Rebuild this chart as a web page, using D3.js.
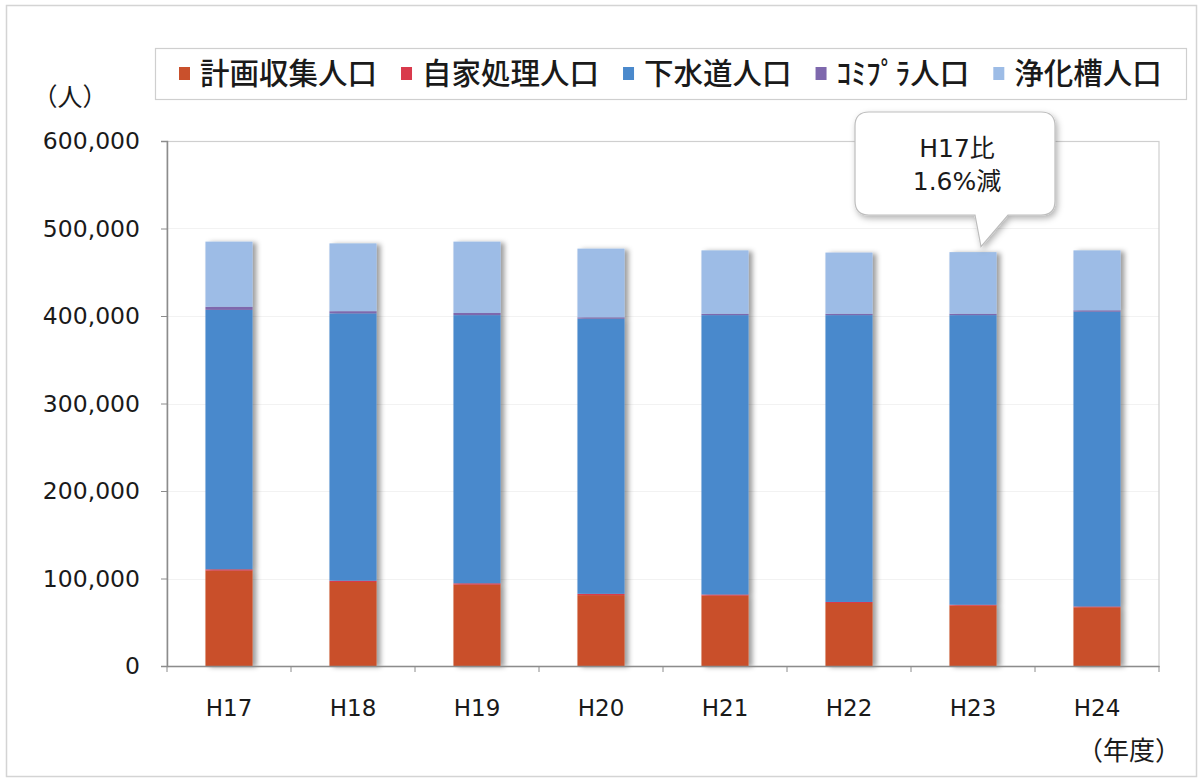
<!DOCTYPE html>
<html lang="ja">
<head>
<meta charset="utf-8">
<script src="https://cdn.jsdelivr.net/npm/d3@7"></script>
<style>
  html, body { margin: 0; padding: 0; background: #fff; }
  svg { display: block; }
  text { fill: #1a1a1a; }
</style>
</head>
<body>
<svg id="chart" width="1203" height="783"></svg>
<script>
// 年度別 処理形態別人口
const years = ["H17", "H18", "H19", "H20", "H21", "H22", "H23", "H24"];
const seriesNames = ["計画収集人口", "自家処理人口", "下水道人口", "ｺﾐﾌﾟﾗ人口", "浄化槽人口"];
const seriesColors = ["#c9502c", "#d93a4c", "#4a89cc", "#7e68ad", "#9dbce6"];

const planned  = [109000, 96000, 93000, 81000, 80500, 72000, 69000, 67000];
const selfProc = [1500, 1500, 1500, 1500, 1200, 1200, 1000, 1000];
const sewer    = [296500, 305500, 306500, 314500, 319300, 327800, 331000, 337000];
const commPlant= [3500, 2500, 2500, 1500, 1500, 1500, 1500, 1500];
const septic   = [74500, 77500, 81500, 78500, 72500, 70000, 70500, 68500];

const yTicks = [0, 100000, 200000, 300000, 400000, 500000, 600000];
const calloutLines = ["H17比", "1.6%減"];

const svg = d3.select("#chart");
const plot = { left: 167, right: 1159, top: 141, bottom: 666 };
const font = "'DejaVu Sans', 'Noto Sans CJK JP', sans-serif";
const cjkFont = "'Noto Sans CJK JP', 'DejaVu Sans', sans-serif";

// drop shadows for bars and the callout
const defs = svg.append("defs");
const sh = defs.append("filter").attr("id", "shadow")
  .attr("x", "-20%").attr("y", "-5%").attr("width", "150%").attr("height", "115%");
sh.append("feDropShadow").attr("dx", 4).attr("dy", 1).attr("stdDeviation", 2.4)
  .attr("flood-color", "#000").attr("flood-opacity", 0.38);
const sh2 = defs.append("filter").attr("id", "shadow2")
  .attr("x", "-10%").attr("y", "-10%").attr("width", "130%").attr("height", "130%");
sh2.append("feDropShadow").attr("dx", 2).attr("dy", 3).attr("stdDeviation", 3)
  .attr("flood-color", "#000").attr("flood-opacity", 0.3);

// outer frame
svg.append("rect").attr("x", 6.5).attr("y", 5.5).attr("width", 1190).attr("height", 771)
  .attr("fill", "#fff").attr("stroke", "#d4d4d4").attr("stroke-width", 1.5);

const x = d3.scaleBand().domain(years).range([plot.left, plot.right])
  .paddingInner(0.62).paddingOuter(0.31);
const y = d3.scaleLinear().domain([0, 600000]).range([plot.bottom, plot.top]);

// faint gridlines and plot area border
svg.append("g").selectAll("line").data(yTicks.slice(1, -1)).join("line")
  .attr("x1", plot.left).attr("x2", plot.right)
  .attr("y1", d => Math.round(y(d)) + 0.5).attr("y2", d => Math.round(y(d)) + 0.5)
  .attr("stroke", "#f2f2f2").attr("stroke-width", 1);
svg.append("rect").attr("x", plot.left).attr("y", plot.top + 0.5)
  .attr("width", plot.right - plot.left).attr("height", plot.bottom - plot.top)
  .attr("fill", "none").attr("stroke", "#cfcfcf").attr("stroke-width", 1.2);

// stacked bars
const rows = years.map((yr, i) => ({
  year: yr,
  [seriesNames[0]]: planned[i],
  [seriesNames[1]]: selfProc[i],
  [seriesNames[2]]: sewer[i],
  [seriesNames[3]]: commPlant[i],
  [seriesNames[4]]: septic[i]
}));
const stacked = d3.stack().keys(seriesNames)(rows);
const color = d3.scaleOrdinal().domain(seriesNames).range(seriesColors);

svg.append("g").selectAll("g.col").data(years).join("g").attr("class", "col")
  .attr("filter", "url(#shadow)")
  .each(function (yr, i) {
    d3.select(this).selectAll("rect").data(stacked.map(s => ({ key: s.key, v: s[i] })))
      .join("rect")
      .attr("x", x(yr))
      .attr("width", x.bandwidth())
      .attr("y", d => y(d.v[1]))
      .attr("height", d => y(d.v[0]) - y(d.v[1]))
      .attr("fill", d => color(d.key));
  });

// y axis
const yAxis = svg.append("g").attr("transform", `translate(${plot.left},0)`)
  .call(d3.axisLeft(y).tickValues(yTicks).tickSize(6).tickPadding(21)
    .tickFormat(d3.format(",")));
yAxis.select(".domain").attr("stroke", "#8c8c8c").attr("stroke-width", 1.5);
yAxis.selectAll(".tick line").attr("stroke", "#8c8c8c");
yAxis.selectAll("text").attr("font-family", font).attr("font-size", 23.5)
  .attr("fill", "#1a1a1a");

// x axis with boundary ticks between categories
const xAxis = svg.append("g").attr("transform", `translate(0,${plot.bottom})`)
  .call(d3.axisBottom(x).tickSize(0).tickPadding(34));
xAxis.select(".domain").attr("stroke", "#8c8c8c").attr("stroke-width", 1.5);
xAxis.selectAll("text").attr("font-family", font).attr("font-size", 23)
  .attr("fill", "#1a1a1a");
const step = x.step();
svg.append("g").selectAll("line").data(d3.range(years.length + 1)).join("line")
  .attr("x1", i => plot.left + i * step).attr("x2", i => plot.left + i * step)
  .attr("y1", plot.bottom).attr("y2", plot.bottom + 6)
  .attr("stroke", "#8c8c8c");

// unit labels
svg.append("text").attr("x", 70).attr("y", 106).attr("text-anchor", "middle")
  .attr("font-family", cjkFont).attr("font-size", 25).text("（人）");
svg.append("text").attr("x", 1129).attr("y", 760).attr("text-anchor", "middle")
  .attr("font-family", cjkFont).attr("font-size", 26).text("（年度）");

// legend
svg.append("rect").attr("x", 155.5).attr("y", 48.5).attr("width", 1031).attr("height", 51)
  .attr("fill", "#fff").attr("stroke", "#cfcfcf").attr("stroke-width", 1.2);
const lg = svg.append("g");
let lx = 179;
seriesNames.forEach((name, i) => {
  lg.append("rect").attr("x", lx).attr("y", 67).attr("width", 11).attr("height", 13)
    .attr("fill", seriesColors[i]);
  const t = lg.append("text").attr("x", lx + 21).attr("y", 84)
    .attr("font-family", cjkFont).attr("font-size", 29.5).attr("font-weight", 500)
    .text(name);
  lx += 21 + t.node().getComputedTextLength() + 24;
});

// callout bubble pointing at the H23 bar
const cx0 = 855, cx1 = 1055, cy0 = 112, cy1 = 215, r = 14;
const tipX = x("H23") + x.bandwidth() / 2 + 8, tipY = y(472500) - 6;
const bubble = d3.path();
bubble.moveTo(cx0 + r, cy0);
bubble.lineTo(cx1 - r, cy0);
bubble.quadraticCurveTo(cx1, cy0, cx1, cy0 + r);
bubble.lineTo(cx1, cy1 - r);
bubble.quadraticCurveTo(cx1, cy1, cx1 - r, cy1);
bubble.lineTo(1008, cy1);
bubble.lineTo(tipX, tipY);
bubble.lineTo(975, cy1);
bubble.lineTo(cx0 + r, cy1);
bubble.quadraticCurveTo(cx0, cy1, cx0, cy1 - r);
bubble.lineTo(cx0, cy0 + r);
bubble.quadraticCurveTo(cx0, cy0, cx0 + r, cy0);
bubble.closePath();
svg.append("path").attr("d", bubble.toString()).attr("fill", "#fff")
  .attr("stroke", "#bdbdbd").attr("stroke-width", 1.2).attr("filter", "url(#shadow2)");
svg.append("g").selectAll("text").data(calloutLines).join("text")
  .attr("x", 957).attr("y", (d, i) => 157 + i * 33).attr("text-anchor", "middle")
  .attr("font-family", font).attr("font-size", 25).text(d => d);
</script>
</body>
</html>
